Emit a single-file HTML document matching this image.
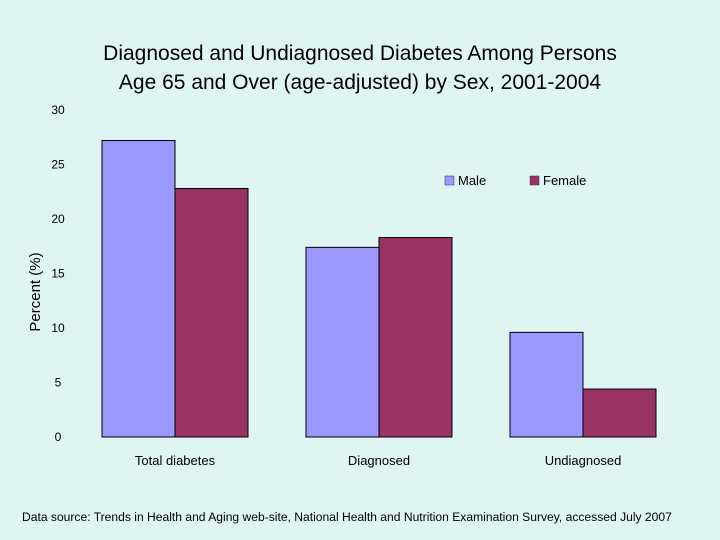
<!DOCTYPE html>
<html><head><meta charset="utf-8"><style>
body{margin:0;background:#dff5f1;}
svg{display:block;font-family:"Liberation Sans",sans-serif;}
</style></head><body>
<svg width="720" height="540" id="c">
<rect width="720" height="540" fill="#dff5f1"/>
<text x="360" y="60" font-size="21" text-anchor="middle" fill="#000">Diagnosed and Undiagnosed Diabetes Among Persons</text>
<text x="360" y="89" font-size="21" text-anchor="middle" fill="#000">Age 65 and Over (age-adjusted) by Sex, 2001-2004</text>
<text transform="translate(40,292) rotate(-90)" font-size="15" text-anchor="middle">Percent (%)</text>
<g id="plot"></g>
<g>
<rect x="445" y="176" width="9" height="9" fill="#9999ff" stroke="#333" stroke-width="0.5"/>
<text x="458" y="185" font-size="13">Male</text>
<rect x="530" y="176" width="9" height="9" fill="#993366" stroke="#333" stroke-width="0.5"/>
<text x="543" y="185" font-size="13">Female</text>
</g>
<text x="22" y="521" font-size="12.1">Data source: Trends in Health and Aging web-site, National Health and Nutrition Examination Survey, accessed July 2007</text>
</svg>
<script>
const categories=["Total diabetes","Diagnosed","Undiagnosed"];
const maleValues=[27.2,17.4,9.6];
const femaleValues=[22.8,18.3,4.4];
const yTicks=[0,5,10,15,20,25,30];
const ns="http://www.w3.org/2000/svg";
const g=document.getElementById('plot');
const y0=437,ppu=(437-110)/30,x0=73,gw=204,bw=73;
const yS=v=>y0-v*ppu;
const xC=i=>x0+gw*(i+0.5);
function mk(t,a){const e=document.createElementNS(ns,t);for(const k in a)e.setAttribute(k,a[k]);g.appendChild(e);return e;}
yTicks.forEach(v=>{const t=mk('text',{x:58,y:yS(v)+4,'font-size':12,'text-anchor':'middle'});t.textContent=v;

});
categories.forEach((c,i)=>{
const m=mk('rect',{x:xC(i)-bw,y:yS(maleValues[i]),width:bw,height:maleValues[i]*ppu,fill:'#9999ff',stroke:'#000','stroke-width':1});


const f=mk('rect',{x:xC(i),y:yS(femaleValues[i]),width:bw,height:femaleValues[i]*ppu,fill:'#993366',stroke:'#000','stroke-width':1});


const t=mk('text',{x:xC(i),y:465,'font-size':13,'text-anchor':'middle'});t.textContent=c;


});
</script>
</body></html>
